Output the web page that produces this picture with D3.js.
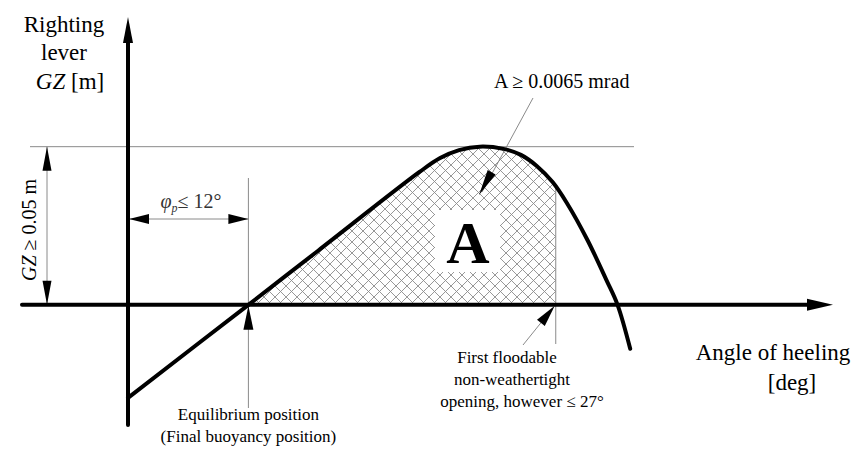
<!DOCTYPE html>
<html>
<head>
<meta charset="utf-8">
<script src="https://cdn.jsdelivr.net/npm/d3@7"></script>
<style>
  body { margin: 0; background: #fff; }
  svg { display: block; font-family: "Liberation Serif", "Times New Roman", serif; }
</style>
</head>
<body>
<svg id="chart" width="857" height="449"></svg>
<script>
// righting lever curve (deg, m)
var angles   = [0, 7.6, 12, 18.4, 19.7, 20.9, 22.2, 23.7, 24.8, 25.8, 26.8, 27.7, 29, 30.2, 30.9, 31.7];
var gzValues = [-0.0294, 0, 0.0171, 0.042, 0.0464, 0.0489, 0.05, 0.0493, 0.0474, 0.0439, 0.0388, 0.0322, 0.0205, 0.0078, 0, -0.0139];

var eqAngle = 7.6;      // equilibrium position
var floodAngle = 27;    // first floodable opening
var gzLimit = 0.05;     // required GZ

var points = angles.map(function (a, i) { return [a, gzValues[i]]; });

var svg = d3.select('#chart');
var grey = '#8a8a8a';

var x = d3.scaleLinear().domain([0, 44.5]).range([128, 833]);
var y = d3.scaleLinear().domain([-0.038, 0.091]).range([425, 17]);

// filled arrow head, tip at (tx,ty), pointing away from (fx,fy)
function arrowHead(g, tx, ty, fx, fy, len, half) {
    var dx = tx - fx, dy = ty - fy;
    var l = Math.sqrt(dx * dx + dy * dy);
    dx /= l; dy /= l;
    var bx = tx - dx * len, by = ty - dy * len;
    g.append('path')
        .attr('d', 'M' + tx + ',' + ty +
            'L' + (bx - dy * half) + ',' + (by + dx * half) +
            'L' + (bx + dy * half) + ',' + (by - dx * half) + 'Z')
        .attr('fill', '#000');
}

function gzAt(a) {
    var i = d3.bisector(function (d) { return d[0]; }).left(points, a);
    var p0 = points[i - 1], p1 = points[i];
    return p0[1] + (p1[1] - p0[1]) * (a - p0[0]) / (p1[0] - p0[0]);
}

// hatch pattern
var defs = svg.append('defs');
var pat = defs.append('pattern')
    .attr('id', 'hatch')
    .attr('patternUnits', 'userSpaceOnUse')
    .attr('width', 11).attr('height', 11);
pat.append('path').attr('d', 'M0,0L11,11M0,11L11,0')
    .attr('stroke', '#8c8c8c').attr('stroke-width', 0.9);

defs.append('clipPath').attr('id', 'areaClip')
    .append('rect')
    .attr('x', x(eqAngle)).attr('y', 0)
    .attr('width', x(floodAngle) - x(eqAngle))
    .attr('height', y(0));

var line = d3.line()
    .x(function (d) { return x(d[0]); })
    .y(function (d) { return y(d[1]); })
    .curve(d3.curveCatmullRom.alpha(0.5));

var area = d3.area()
    .x(function (d) { return x(d[0]); })
    .y0(y(0))
    .y1(function (d) { return y(d[1]); })
    .curve(d3.curveCatmullRom.alpha(0.5));

svg.append('path')
    .datum(points)
    .attr('d', area)
    .attr('fill', 'url(#hatch)')
    .attr('clip-path', 'url(#areaClip)');

// white box behind the big A
svg.append('rect')
    .attr('x', 435).attr('y', 210).attr('width', 65).attr('height', 62)
    .attr('fill', '#fff');
svg.append('text')
    .attr('x', 468).attr('y', 263)
    .attr('text-anchor', 'middle')
    .attr('font-size', 60).attr('font-weight', 'bold')
    .text('A');

// thin construction lines
var thin = svg.append('g').attr('stroke', grey).attr('stroke-width', 1).attr('fill', 'none');
thin.append('line')
    .attr('x1', 30).attr('x2', 634)
    .attr('y1', y(gzLimit)).attr('y2', y(gzLimit));
thin.append('line')
    .attr('x1', x(eqAngle)).attr('x2', x(eqAngle))
    .attr('y1', 178).attr('y2', 408);
thin.append('line')
    .attr('x1', x(floodAngle)).attr('x2', x(floodAngle))
    .attr('y1', y(gzAt(floodAngle))).attr('y2', 344);
// GZ dimension
thin.append('line')
    .attr('x1', 47).attr('x2', 47)
    .attr('y1', y(gzLimit)).attr('y2', y(0));
// phi dimension
thin.append('line')
    .attr('x1', x(0)).attr('x2', x(eqAngle))
    .attr('y1', 219).attr('y2', 219);
// leader to area A
thin.append('line')
    .attr('x1', 533).attr('y1', 98)
    .attr('x2', 482).attr('y2', 192);
// leader to flood opening
thin.append('line')
    .attr('x1', 523).attr('y1', 345)
    .attr('x2', 548).attr('y2', 314);

// curve
svg.append('path')
    .datum(points)
    .attr('d', line)
    .attr('fill', 'none')
    .attr('stroke', '#000')
    .attr('stroke-width', 4)
    .attr('stroke-linecap', 'round');

// axes
var axes = svg.append('g').attr('stroke', '#000').attr('stroke-width', 4).attr('stroke-linecap', 'round');
axes.append('line')
    .attr('x1', 22).attr('x2', x(43))
    .attr('y1', y(0)).attr('y2', y(0));
axes.append('line')
    .attr('x1', x(0)).attr('x2', x(0))
    .attr('y1', y(-0.038)).attr('y2', y(0.085));

var heads = svg.append('g');
arrowHead(heads, x(44.5), y(0), x(0), y(0), 26, 6);
arrowHead(heads, x(0), y(0.091), x(0), y(0), 26, 5);
// GZ dimension arrows
arrowHead(heads, 47, y(gzLimit), 47, y(0), 24, 4.5);
arrowHead(heads, 47, y(0), 47, y(gzLimit), 24, 4.5);
// phi dimension arrows
arrowHead(heads, x(0) + 1, 219, x(eqAngle), 219, 20, 5);
arrowHead(heads, x(eqAngle), 219, x(0), 219, 20, 5);
// equilibrium arrow
arrowHead(heads, x(eqAngle), y(0) + 1, x(eqAngle), 400, 24, 5);
// area arrow
arrowHead(heads, 479, 195, 533, 98, 26, 4.5);
// flood arrow
arrowHead(heads, x(floodAngle) - 1, y(0) + 1, 523, 345, 22, 5);

// texts
var t = svg.append('g').attr('fill', '#000');
var ylab = t.append('text').attr('text-anchor', 'middle').attr('font-size', 23);
ylab.append('tspan').attr('x', 64).attr('y', 32).text('Righting');
ylab.append('tspan').attr('x', 64).attr('y', 60).text('lever');
var gzl = ylab.append('tspan').attr('x', 70).attr('y', 89);
gzl.append('tspan').attr('font-style', 'italic').text('GZ');
gzl.append('tspan').text(' [m]');

var xlab = t.append('g').attr('font-size', 23);
xlab.append('text').attr('x', 773).attr('y', 360).attr('text-anchor', 'middle').text('Angle of heeling');
xlab.append('text').attr('x', 792).attr('y', 390).attr('text-anchor', 'middle').text('[deg]');

var gzDim = t.append('text')
    .attr('transform', 'translate(36,230) rotate(-90)')
    .attr('text-anchor', 'middle')
    .attr('font-size', 20);
gzDim.append('tspan').attr('font-style', 'italic').text('GZ');
gzDim.append('tspan').text(' \u2265 0.05 m');

var phi = t.append('text')
    .attr('x', 191).attr('y', 208)
    .attr('text-anchor', 'middle')
    .attr('font-size', 20)
    .attr('fill', '#333');
phi.append('tspan').attr('font-style', 'italic').text('\u03c6');
phi.append('tspan').attr('font-style', 'italic').attr('font-size', 12).attr('dy', 4).text('p');
phi.append('tspan').attr('dy', -4).text('\u2264 12\u00b0');

t.append('text')
    .attr('x', 494).attr('y', 88)
    .attr('font-size', 20)
    .text('A \u2265 0.0065 mrad');

var eq = t.append('text').attr('text-anchor', 'middle').attr('font-size', 17);
eq.append('tspan').attr('x', x(eqAngle)).attr('y', 420).text('Equilibrium position');
eq.append('tspan').attr('x', x(eqAngle)).attr('y', 442).text('(Final buoyancy position)');

var fl = t.append('text').attr('text-anchor', 'middle').attr('font-size', 17);
fl.append('tspan').attr('x', 507).attr('y', 363).text('First floodable');
fl.append('tspan').attr('x', 512).attr('y', 385).text('non-weathertight');
fl.append('tspan').attr('x', 522).attr('y', 407).text('opening, however \u2264 27\u00b0');
</script>
</body>
</html>
